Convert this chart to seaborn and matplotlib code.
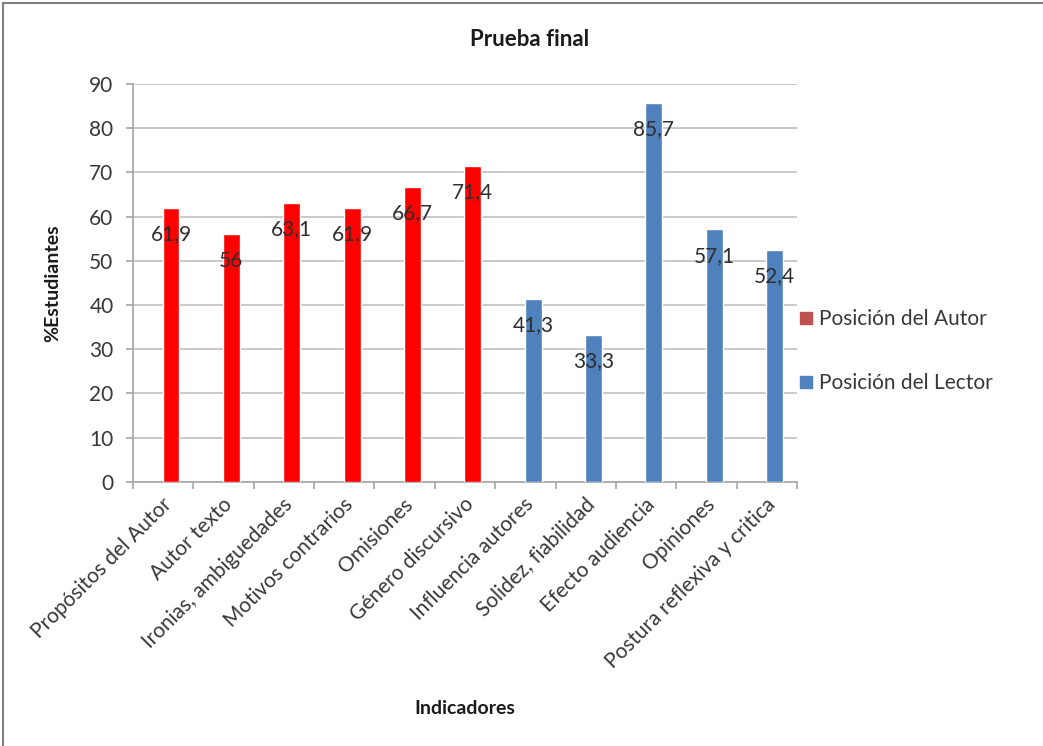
import numpy as np
import pandas as pd
import matplotlib
matplotlib.use("Agg")
import matplotlib.pyplot as plt
from matplotlib.lines import Line2D
from matplotlib.ticker import FixedLocator
import seaborn as sns

# Indicators and percentage of students per indicator
indicadores = [
    "Propósitos del Autor", "Autor texto", "Ironias, ambiguedades",
    "Motivos contrarios", "Omisiones", "Género discursivo",
    "Influencia autores", "Solidez, fiabilidad", "Efecto audiencia",
    "Opiniones", "Postura reflexiva y critica",
]
porcentajes = [61.9, 56, 63.1, 61.9, 66.7, 71.4, 41.3, 33.3, 85.7, 57.1, 52.4]
posiciones = ["Posición del Autor"] * 6 + ["Posición del Lector"] * 5
etiquetas = ["61,9", "56", "63,1", "61,9", "66,7", "71,4",
             "41,3", "33,3", "85,7", "57,1", "52,4"]
grupos = ["Posición del Autor", "Posición del Lector"]

df = pd.DataFrame({"Indicador": indicadores,
                   "Porcentaje": porcentajes,
                   "Posición": posiciones})

sns.set_theme(style="white")
plt.rcParams["font.family"] = ["Lato", "DejaVu Sans"]

TXT = "#383838"
GRID = "#C0C0C0"
AXC = "#A6A6A6"

fig = plt.figure(figsize=(10.43, 7.46), dpi=100)
ax = fig.add_axes([0.1275, 0.3543, 0.6366, 0.5331])

bar_colors = {"Posición del Autor": "#FF0000", "Posición del Lector": "#4F81BD"}
sns.barplot(data=df, x="Indicador", y="Porcentaje", hue="Posición",
            palette=bar_colors, dodge=False, width=0.28, legend=False,
            saturation=1, ax=ax, zorder=3)

# data labels inside the bar ends
for i, (v, t) in enumerate(zip(porcentajes, etiquetas)):
    ax.annotate(t, xy=(i, v), xytext=(0, -19), textcoords="offset points",
                ha="center", va="center", fontsize=15, color="#2e2e2e", zorder=4)

shift = 0.13
n = len(indicadores)
ax.set_xlim(-0.5 - shift, n - 0.5 - shift)
ax.set_ylim(0, 90)
ax.set_yticks(np.arange(0, 91, 10))
ax.yaxis.grid(True, color=GRID, linewidth=1.2, zorder=0)
ax.set_axisbelow(True)

# category labels (no tick mark), boundary ticks as minor ticks
ax.set_xticks(np.arange(n) - 0.04)
ax.set_xticklabels(indicadores, rotation=45, ha="right", va="center",
                   rotation_mode="anchor", fontsize=15, color=TXT)
ax.xaxis.set_minor_locator(FixedLocator(np.arange(n + 1) - 0.5 - shift))
ax.tick_params(axis="x", which="major", length=0, pad=14)
ax.tick_params(axis="x", which="minor", length=5, width=1.2, color=AXC,
               direction="out", bottom=True)
ax.tick_params(axis="y", length=5, width=1.2, color=AXC, direction="out",
               left=True, labelsize=15, labelcolor=TXT, pad=9)

for s in ["top", "right"]:
    ax.spines[s].set_visible(False)
for s in ["left", "bottom"]:
    ax.spines[s].set_color(AXC)
    ax.spines[s].set_linewidth(1.2)

ax.set_xlabel("Indicadores", fontsize=14, fontweight="bold", color="#1a1a1a")
ax.set_ylabel("%Estudiantes", fontsize=14, fontweight="bold", color="#1a1a1a",
              labelpad=20)
ax.xaxis.set_label_coords(0.5, -0.55)

fig.text(530 / 1043, 1 - 40 / 746, "Prueba final", ha="center", va="center",
         fontsize=16, fontweight="bold", color="#1a1a1a")

handles = [Line2D([], [], marker="s", linestyle="none", markersize=9,
                  markerfacecolor=c, markeredgecolor=c)
           for c in ["#C0504D", "#4F81BD"]]
fig.legend(handles, grupos, loc="center left",
           bbox_to_anchor=(777 / 1043, 1 - 351 / 746), frameon=False,
           fontsize=15, labelspacing=2.1, handletextpad=0.1,
           handlelength=1.0, labelcolor=TXT)

# chart area border (left and top edges)
fig.add_artist(Line2D([3 / 1043, 3 / 1043], [0, 1 - 3 / 746],
                      transform=fig.transFigure, color="#808080", linewidth=1.5))
fig.add_artist(Line2D([3 / 1043, 1], [1 - 3 / 746, 1 - 3 / 746],
                      transform=fig.transFigure, color="#808080", linewidth=1.5))

fig.savefig("out.png", dpi=100, facecolor="white")
